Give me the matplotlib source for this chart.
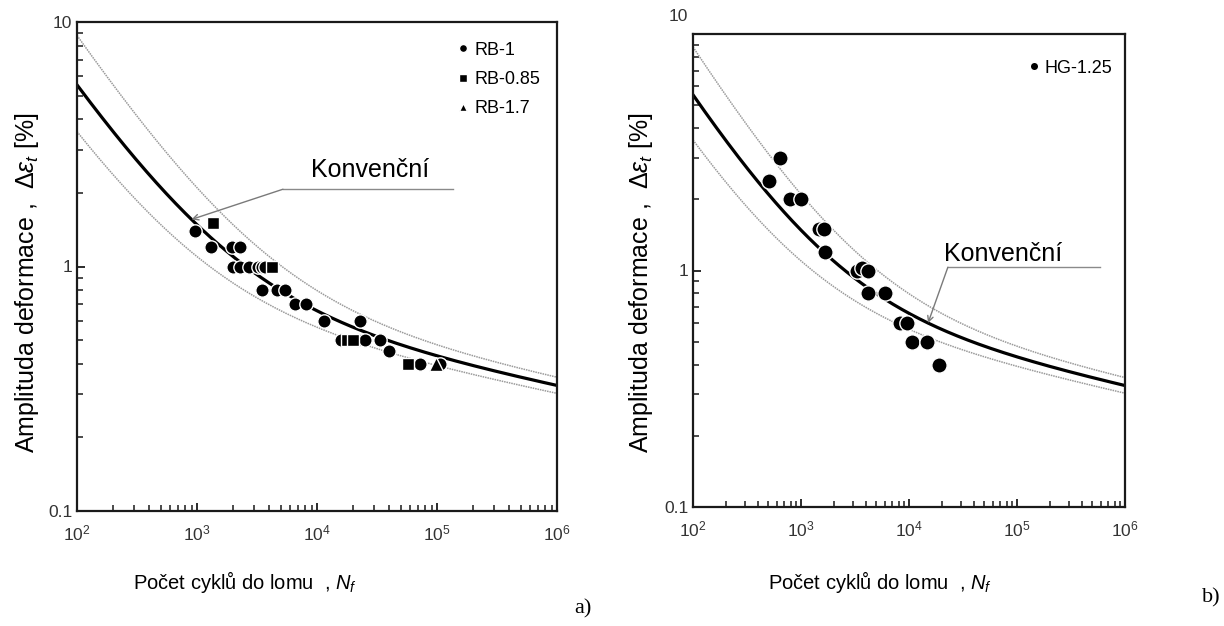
import numpy as np
import matplotlib.pyplot as plt
from matplotlib.ticker import FuncFormatter, NullFormatter, LogLocator
import matplotlib.transforms as mtransforms

plt.rcParams['font.family'] = ['Liberation Sans', 'DejaVu Sans']
plt.rcParams['mathtext.fontset'] = 'custom'
plt.rcParams['mathtext.rm'] = 'Liberation Sans'
plt.rcParams['mathtext.it'] = 'Liberation Sans:italic'

# Konvencni curve (Coffin-Manson): de = A*N^b + B*N^c
A_el, b_el = 1.28, -0.10
B_pl, c_pl = 149.4, -0.75
life_factor = 2.0   # dotted scatter band: N/2 and 2N

# a) RB specimens
rb1_n = [960, 1320, 1940, 2280, 2000, 2280, 2710, 3200, 3450, 3680,
         3500, 4600, 5440, 6550, 8030, 11500, 22900,
         16000, 22100, 25200, 33600, 39900, 72400, 106000]
rb1_e = [1.4, 1.2, 1.2, 1.2, 1.0, 1.0, 1.0, 1.0, 1.0, 1.0,
         0.8, 0.8, 0.8, 0.7, 0.7, 0.6, 0.6,
         0.5, 0.5, 0.5, 0.5, 0.45, 0.4, 0.4]
rb085_n = [1370, 4190, 17700, 20100, 57800]
rb085_e = [1.5, 1.0, 0.5, 0.5, 0.4]
rb17_n = [98500]
rb17_e = [0.4]

# b) HG specimens
hg_n = [501, 634, 795, 1005, 1455, 1620, 1676, 3290, 3710, 4160,
        4160, 6010, 8280, 9550, 10620, 14620, 19150]
hg_e = [2.4, 3.0, 2.0, 2.0, 1.5, 1.5, 1.2, 1.0, 1.02, 1.0,
        0.8, 0.8, 0.6, 0.6, 0.5, 0.5, 0.4]


def konv(n):
    n = np.asarray(n, dtype=float)
    return A_el * n ** b_el + B_pl * n ** c_pl


def style_axes(ax):
    ax.set_xscale('log')
    ax.set_yscale('log')
    ax.set_xlim(1e2, 1e6)
    ax.set_ylim(0.1, 10)
    for s in ax.spines.values():
        s.set_linewidth(1.6)
        s.set_color('#1a1a1a')
    ax.set_yticks([0.1, 1, 10])
    ax.xaxis.set_major_locator(LogLocator(base=10, numticks=10))
    ax.yaxis.set_major_formatter(FuncFormatter(lambda v, p: f'{v:g}'))
    ax.xaxis.set_minor_formatter(NullFormatter())
    ax.yaxis.set_minor_formatter(NullFormatter())
    ax.tick_params(which='both', direction='in', top=False, right=False,
                   color='#1a1a1a', labelcolor='#333333')
    ax.tick_params(which='major', length=6, width=1.3, labelsize=12.5)
    ax.tick_params(axis='x', which='major', pad=9)
    ax.tick_params(which='minor', length=4.5, width=1.1)


def draw_curves(ax):
    n = np.logspace(2, 6, 400)
    ax.plot(n, konv(n / life_factor), color='#9a9a9a', lw=1.1, ls=(0, (1, 0.6)))
    ax.plot(n, konv(n * life_factor), color='#9a9a9a', lw=1.1, ls=(0, (1, 0.6)))
    ax.plot(n, konv(n), color='black', lw=2.3)


fig = plt.figure(figsize=(12.24, 6.26), dpi=100)
ax1 = fig.add_axes([77 / 1224, 115 / 626, 480 / 1224, 489 / 626])
ax2 = fig.add_axes([693 / 1224, 119 / 626, 432 / 1224, 473 / 626])

ylab = 'Amplituda deformace ,  $\\mathit{\\Delta\\varepsilon_t}$ [%]'
xlab = 'Počet cyklů do lomu  , $\\mathit{N_f}$'
mk = dict(ls='none', markeredgecolor='white', markeredgewidth=1.0)

# ---- a)
style_axes(ax1)
draw_curves(ax1)
ax1.plot(rb1_n, rb1_e, 'o', color='black', ms=9.6, label='RB-1', **mk)
ax1.plot(rb085_n, rb085_e, 's', color='black', ms=8.6, label='RB-0.85', **mk)
ax1.plot(rb17_n, rb17_e, '^', color='black', ms=9.6, label='RB-1.7', **mk)
ax1.legend(loc='upper left', bbox_to_anchor=(0.775, 0.978), frameon=False,
           fontsize=13, markerscale=0.6, handlelength=0.6, handletextpad=0.3,
           labelspacing=0.68, borderpad=0)
ax1.set_ylabel(ylab, fontsize=18)
ax1.yaxis.set_label_coords(-0.075, 0.466)
ax1.set_xlabel(xlab, fontsize=14.5)
ax1.xaxis.set_label_coords(0.35, -0.118)

ax1.plot([0.429, 0.783], [0.658, 0.658], transform=ax1.transAxes,
         color='#8a8a8a', lw=1.0)
ax1.annotate('', xy=(900, konv(900)), xycoords='data',
             xytext=(0.429, 0.658), textcoords='axes fraction',
             arrowprops=dict(arrowstyle='->', color='#7a7a7a', lw=1.0,
                             shrinkA=0, shrinkB=0))
ax1.text(0.61, 0.672, 'Konvenční', transform=ax1.transAxes, fontsize=18,
         ha='center', va='bottom', color='black')

# ---- b)
style_axes(ax2)
draw_curves(ax2)
ax2.plot(hg_n, hg_e, 'o', color='black', ms=11, label='HG-1.25', **mk)
ax2.legend(loc='upper left', bbox_to_anchor=(0.755, 0.965), frameon=False,
           fontsize=13, markerscale=0.55, handlelength=0.6, handletextpad=0.3,
           borderpad=0)
ax2.set_ylabel(ylab, fontsize=18)
ax2.yaxis.set_label_coords(-0.088, 0.474)
ax2.set_xlabel(xlab, fontsize=14.5)
ax2.xaxis.set_label_coords(0.433, -0.131)

ax2.plot([0.590, 0.942], [0.507, 0.507], transform=ax2.transAxes,
         color='#8a8a8a', lw=1.0)
ax2.annotate('', xy=(15000, konv(15000)), xycoords='data',
             xytext=(0.590, 0.507), textcoords='axes fraction',
             arrowprops=dict(arrowstyle='->', color='#7a7a7a', lw=1.0,
                             shrinkA=0, shrinkB=0))
ax2.text(0.718, 0.51, 'Konvenční', transform=ax2.transAxes, fontsize=18,
         ha='center', va='bottom', color='black')

# top label of b) sits a bit above the frame
top = ax2.yaxis.get_major_ticks()[-1].label1
top.set_transform(top.get_transform() +
                  mtransforms.ScaledTranslation(0, 14 / 72, fig.dpi_scale_trans))

fig.text(0.476, 0.028, 'a)', family='Liberation Serif', fontsize=16,
         ha='center', va='center')
fig.text(0.990, 0.045, 'b)', family='Liberation Serif', fontsize=16,
         ha='center', va='center')

fig.savefig('out.png', dpi=100, facecolor='white')
